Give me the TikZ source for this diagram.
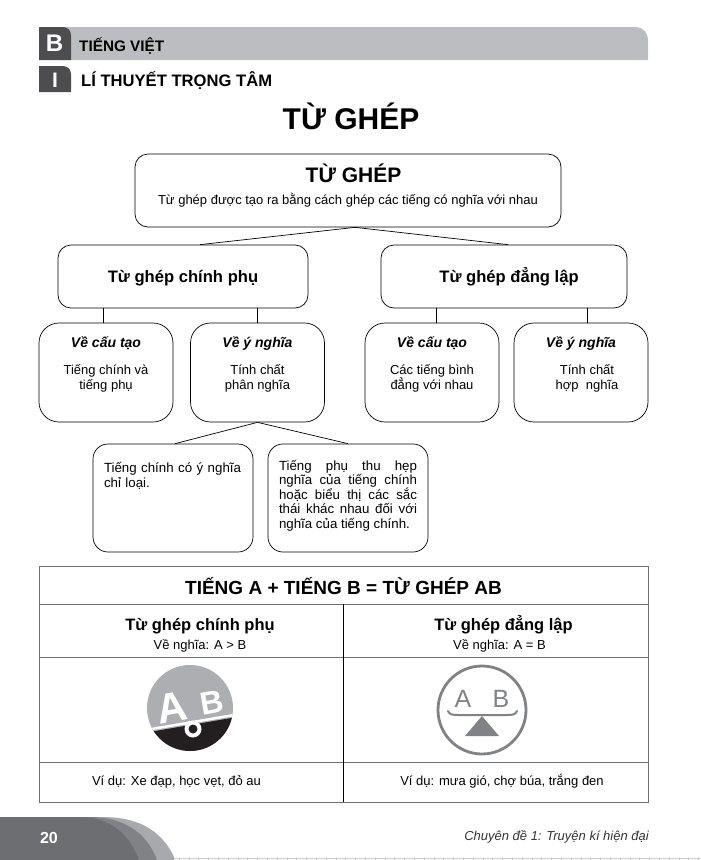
\documentclass[tikz,border=0pt]{standalone}
\usepackage{fontspec}
\setmainfont{Liberation Sans}
\definecolor{barfill}{HTML}{BCBDC0}
\definecolor{tabfill}{HTML}{4D4D4F}
\definecolor{footA}{HTML}{A7A9AC}
\definecolor{footB}{HTML}{808285}
\definecolor{footC}{HTML}{6D6E71}
\definecolor{iconfill}{HTML}{ADAEB1}
\definecolor{iconblack}{HTML}{231F20}
\definecolor{scalefill}{HTML}{808285}
\definecolor{rulefill}{HTML}{6D6E71}
\usetikzlibrary{positioning}
\tikzset{
  bigbox/.style={draw=black,rounded corners=13pt,line width=0.7pt,text=black},
  subbox/.style={draw=black,rounded corners=20pt,line width=0.7pt,minimum width=134pt,minimum height=99pt,align=center,text depth=18pt,font=\fontsize{13}{15.5}\selectfont},
  leafbox/.style={draw=black,rounded corners=15pt,line width=0.7pt,minimum width=160pt,minimum height=108pt,text width=138pt,inner sep=0pt,font=\fontsize{13.3}{14.6}\selectfont},
  cell/.style={draw=rulefill,line width=0.8pt,inner sep=0pt,align=center},
}
\newcommand{\hd}[1]{\textbf{\textit{\fontsize{14}{15}\selectfont #1}}\\[11pt]}
\begin{document}
\begin{tikzpicture}[x=1pt,y=-1pt]
   \useasboundingbox (0,0) rectangle (701,860);
   \fill[barfill] (60,27) -- (636,27) to[out=0,in=90] (648,40) -- (648,60) -- (60,60) -- cycle;
   \fill[tabfill] (39,27) -- (63,27) to[out=0,in=90] (71,35) -- (71,60) -- (39,60) -- cycle;
   \fill[tabfill] (39,66) -- (63,66) to[out=0,in=90] (71,74) -- (71,92) -- (39,92) -- cycle;
   \node[text=white,font=\bfseries\fontsize{24}{24}\selectfont] (lblB) at (54.5,43.5) {B};
   \node[text=white,font=\bfseries\fontsize{21}{21}\selectfont] (lblI) at (55,80) {I};
   \node[anchor=west,inner sep=0pt,font=\bfseries\fontsize{15.3}{15}\selectfont] (secB) at (79,46) {TIẾNG VIỆT};
   \node[anchor=west,inner sep=0pt,font=\bfseries\fontsize{16.6}{16}\selectfont] (secI) at (81,81) {LÍ THUYẾT TRỌNG TÂM};
   \node[font=\bfseries\fontsize{30}{30}\selectfont] (title) at (351,116) {TỪ GHÉP};

   \node[bigbox,minimum width=426pt,minimum height=73pt,align=center,text depth=13pt] (top) at (348,190.5)
     {\hspace*{11pt}{\bfseries\fontsize{21}{24}\selectfont TỪ GHÉP}\\[10pt]{\fontsize{13}{14}\selectfont Từ ghép được tạo ra bằng cách ghép các tiếng có nghĩa với nhau}};
   \begin{scope}[every node/.append style={minimum height=63pt,text height=14pt,text depth=2pt,font=\bfseries\fontsize{16.6}{18}\selectfont}]
    \node[bigbox,minimum width=250pt] (chinhphu) at (183,276.5) {Từ ghép chính phụ};
    \node[bigbox,minimum width=246pt,align=center] (danglap) at (504,276.5) {\hspace*{10pt}Từ ghép đẳng lập};
   \end{scope}
   \begin{scope}[every node/.style={subbox}]
    \node (cautaoA) at (106,372.5) {\hd{Về cấu tạo}Tiếng chính và\\tiếng phụ};
    \node (ynghiaA) at (257.5,372.5) {\hd{Về ý nghĩa}Tính chất\\phân nghĩa};
    \node (cautaoB) at (432,372.5) {\hd{Về cấu tạo}Các tiếng bình\\đẳng với nhau};
    \node (ynghiaB) at (581,372.5) {\hd{Về ý nghĩa}\hspace*{12pt}Tính chất\\\hspace*{12pt}hợp\ \ nghĩa};
   \end{scope}
   \begin{scope}[every node/.style={leafbox}]
    \node[text depth=62pt,align=left] (leafA) at (173,498) {Tiếng chính có ý nghĩa\\[1pt]chỉ loại.};
    \node[text depth=66pt,align=justify] (leafB) at (348,498) {Tiếng phụ thu hẹp nghĩa của tiếng chính hoặc biểu thị các sắc thái khác nhau đối với nghĩa của tiếng chính.};
   \end{scope}
   \coordinate (apex) at (355,230);
   \coordinate (endA) at (200,240);
   \coordinate (endB) at (508,240);
   \coordinate (dropA) at (103,315);
   \coordinate (dropB) at (257,315);
   \coordinate (dropC) at (436,315);
   \coordinate (dropD) at (587,315);
   \coordinate (endC) at (175,440);
   \begin{scope}[line width=0.7pt]
    \draw (top.south -| apex) -- (chinhphu.north -| endA);
    \draw (top.south -| apex) -- (danglap.north -| endB);
    \draw (chinhphu.south -| dropA) -- (cautaoA.north -| dropA);
    \draw (chinhphu.south -| dropB) -- (ynghiaA.north -| dropB);
    \draw (danglap.south -| dropC) -- (cautaoB.north -| dropC);
    \draw (danglap.south -| dropD) -- (ynghiaB.north -| dropD);
    \draw (ynghiaA.south) -- (leafA.north -| endC);
    \draw (ynghiaA.south) -- (leafB.north);
   \end{scope}

   \node[cell,minimum width=609pt,minimum height=38pt,font=\bfseries\fontsize{19}{21}\selectfont] (tabhead) at (343.5,585.5) {\rule{0pt}{18pt}TIẾNG A + TIẾNG B = TỪ GHÉP AB};
   \begin{scope}[every node/.append style={cell,font=\fontsize{13}{15}\selectfont}]
    \node[minimum width=304pt,minimum height=53pt] (colA) at (191,631) {\rule{0pt}{21pt}\hspace*{18pt}{\bfseries\fontsize{16.5}{20}\selectfont Từ ghép chính phụ}\\[4pt]\hspace*{18pt}Về nghĩa: A > B};
    \node[minimum width=305pt,minimum height=53pt] (colB) at (495.5,631) {\rule{0pt}{21pt}\hspace*{16pt}{\bfseries\fontsize{16.5}{20}\selectfont Từ ghép đẳng lập}\\[4pt]\hspace*{8pt}Về nghĩa: A = B};
    \node[minimum width=304pt,minimum height=105pt] (iconA) at (191,710) {};
    \node[minimum width=305pt,minimum height=105pt] (iconB) at (495.5,710) {};
    \node[minimum width=304pt,minimum height=40pt,text height=10pt,text depth=3pt] (exA) at (191,782) {\hspace*{-29pt}Ví dụ: Xe đạp, học vẹt, đỏ au};
    \node[minimum width=305pt,minimum height=40pt,text height=10pt,text depth=3pt] (exB) at (495.5,782) {\hspace*{13pt}Ví dụ: mưa gió, chợ búa, trắng đen};
   \end{scope}
   \draw[black,line width=0.8pt] (colA.north east) -- (exA.south east);

   \fill[iconfill] (190,708) circle [radius=43];
   \begin{scope}
    \clip (190,708) circle [radius=43];
    \fill[iconblack] (140,733.6) -- (240,716.5) -- (240,760) -- (140,760) -- cycle;
    \draw[white,line width=2.5pt] (140,731) -- (240,714);
   \end{scope}
   \node[text=white,rotate=10,font=\bfseries\fontsize{42}{42}\selectfont] (letA) at (172,708) {A};
   \node[text=white,rotate=10,font=\bfseries\fontsize{32}{32}\selectfont] (letB) at (212,703) {B};
   \fill[white] (193,729) circle [radius=8.5];
   \fill[iconblack] (193,729) circle [radius=4.5];

   \draw[scalefill,line width=2.8pt] (482,710) circle [radius=44];
   \node[text=scalefill,font=\fontsize{25}{25}\selectfont] (scaleA) at (463,699) {A};
   \node[text=scalefill,font=\fontsize{25}{25}\selectfont] (scaleB) at (501,699) {B};
   \draw[scalefill,line width=2pt,line cap=round] (448,711) to[out=-70,in=180] (458,715) -- (507,715) to[out=0,in=-110] (517,711);
   \fill[scalefill] (482,716) -- (499,736) -- (465,736) -- cycle;

   \fill[footA] (0,817) -- (103,817) to[out=0,in=115] (174,857) -- (174,860) -- (0,860) -- cycle;
   \fill[footB] (0,817) -- (90,817) to[out=0,in=110] (157,860) -- (0,860) -- cycle;
   \fill[footC] (0,817) -- (80,817) to[out=0,in=110] (139,860) -- (0,860) -- cycle;
   \node[text=white,font=\bfseries\fontsize{16}{16}\selectfont] (pageno) at (49,838) {20};
   \node[anchor=east,inner sep=0pt,text=black!80,font=\itshape\fontsize{13}{13}\selectfont] (runhead) at (649,837) {Chuyên đề 1: Truyện kí hiện đại};
   \draw[black!20,line width=0.5pt] (174,858) -- (701,858);
   \foreach \x in {0,...,53}
    \draw[black!25,line width=0.5pt] (179+9.8*\x,858) -- (179+9.8*\x,860);
\end{tikzpicture}
\end{document}
